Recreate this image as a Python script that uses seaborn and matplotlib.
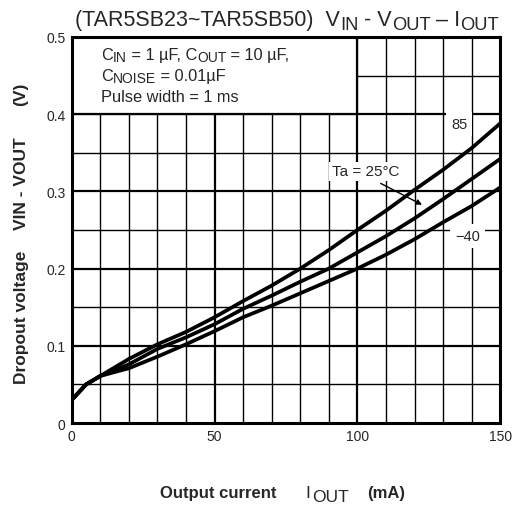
import pandas as pd
import seaborn as sns
import matplotlib.pyplot as plt
from matplotlib.patches import Rectangle

# Output current (mA) and dropout voltage (V)
iout = [0, 5, 10, 20, 30, 40, 50, 60, 70, 80, 90, 100, 110, 120, 130, 140, 150]
v_85 = [0.030, 0.050, 0.061, 0.083, 0.102, 0.118, 0.137, 0.158, 0.178, 0.200,
        0.224, 0.250, 0.275, 0.302, 0.328, 0.356, 0.388]
v_25 = [0.030, 0.050, 0.061, 0.076, 0.096, 0.111, 0.128, 0.148, 0.165, 0.183,
        0.200, 0.221, 0.242, 0.265, 0.290, 0.316, 0.342]
v_m40 = [0.030, 0.050, 0.061, 0.071, 0.086, 0.102, 0.119, 0.137, 0.152, 0.168,
         0.184, 0.200, 0.218, 0.238, 0.260, 0.281, 0.305]
temps = ['85', '25', '-40']

x_ticks = [0, 50, 100, 150]
y_ticks = [0, 0.1, 0.2, 0.3, 0.4, 0.5]

df = pd.DataFrame({
    'iout': iout * 3,
    'vdrop': v_85 + v_25 + v_m40,
    'Ta': [t for t in temps for _ in iout],
})

sns.set_style('white')
plt.rcParams['font.family'] = ['Liberation Sans', 'DejaVu Sans']

fig = plt.figure(figsize=(5.13, 5.06), dpi=100)
ax = fig.add_axes([0.140, 0.162, 0.835, 0.763])


def chain(first, parts):
    # put text pieces one after another, subscripts dropped a little
    prev = first
    for p in parts:
        prev = ax.annotate(p['s'], xy=(1, 0), xycoords=(prev, first),
                           xytext=(p.get('gap', 0), -p.get('drop', 0)),
                           textcoords='offset points', va='bottom', ha='left',
                           fontsize=p['size'], fontweight=p.get('weight', 'normal'),
                           annotation_clip=False, zorder=3)
    return prev


# grid lines (minor thin, major a bit heavier)
for gx in range(10, 150, 10):
    lw = 1.6 if gx % 50 == 0 else 1.0
    ax.axvline(gx, color='black', lw=lw, zorder=1)
for gy in [0.05, 0.1, 0.15, 0.2, 0.25, 0.3, 0.35, 0.4, 0.45]:
    lw = 1.6 if round(gy * 100) % 10 == 0 else 1.0
    ax.axhline(gy, color='black', lw=lw, zorder=1)

# blank box for the conditions text
ax.add_patch(Rectangle((0, 0.4), 100, 0.1, facecolor='white', edgecolor='black',
                       lw=1.6, zorder=2))

sns.lineplot(data=df, x='iout', y='vdrop', hue='Ta', palette=['black'] * 3,
             lw=2.7, legend=False, ax=ax, zorder=4)

ax.set_xlim(0, 150)
ax.set_ylim(0, 0.5)
ax.set_xticks(x_ticks)
ax.set_yticks(y_ticks)
ax.set_xticklabels(['0', '50', '100', '150'])
ax.set_yticklabels(['0', '0.1', '0.2', '0.3', '0.4', '0.5'])
ax.tick_params(length=0, labelsize=10, pad=4.5)
for s in ax.spines.values():
    s.set_linewidth(2.2)
    s.set_color('black')
    s.set_zorder(5)
ax.set_xlabel('')
ax.set_ylabel('')

# conditions text
fs = 11.8
sub = 0.85 * fs
t1 = ax.text(10.2, 0.4715, 'C', fontsize=fs, va='baseline', zorder=3)
chain(t1, [dict(s='IN', size=sub, drop=1.5), dict(s=' = 1 µF, C', size=fs),
           dict(s='OUT', size=sub, drop=1.5), dict(s=' = 10 µF,', size=fs)])
t2 = ax.text(10.2, 0.4447, 'C', fontsize=fs, va='baseline', zorder=3)
chain(t2, [dict(s='NOISE', size=sub, drop=1.5), dict(s=' = 0.01µF', size=fs)])
ax.text(10.2, 0.4175, 'Pulse width = 1 ms', fontsize=fs, va='baseline', zorder=3)

# curve labels
bbox_big = dict(facecolor='white', edgecolor='none', pad=3.5)
ax.text(135.6, 0.387, '85', fontsize=10.5, ha='center', va='center', bbox=bbox_big, zorder=3)
ax.text(138.5, 0.242, '\u221240', fontsize=10.5, ha='center', va='center', bbox=bbox_big, zorder=3)
ax.text(103, 0.326, 'Ta = 25°C', fontsize=11, ha='center', va='center',
        bbox=dict(facecolor='white', edgecolor='none', pad=2), zorder=3)
ax.annotate('', xy=(123.5, 0.281), xytext=(107.3, 0.312),
            arrowprops=dict(arrowstyle='-|>', color='black', lw=1.0,
                            mutation_scale=8), zorder=6)

# title
tt = fig.text(0.146, 0.9486, '(TAR5SB23~TAR5SB50)  V', fontsize=15.5, va='baseline')
chain(tt, [dict(s='IN', size=13.2, drop=2.5), dict(s=' - V', size=15.5),
           dict(s='OUT', size=13.2, drop=2.5), dict(s=' \u2013 I', size=15.5),
           dict(s='OUT', size=13.2, drop=2.5)])

# x label
tx = fig.text(0.312, 0.0158, 'Output current', fontsize=12, fontweight='bold', va='baseline')
chain(tx, [dict(s='I', size=12.5, gap=21), dict(s='OUT', size=12.5, drop=3, gap=1),
           dict(s='(mA)', size=12, weight='bold', gap=13.5)])

# y label
fig.text(0.041, 0.372, 'Dropout voltage', fontsize=12.5, fontweight='bold',
         rotation=90, ha='center', va='center')
fig.text(0.041, 0.638, 'VIN - VOUT', fontsize=12.5, fontweight='bold',
         rotation=90, ha='center', va='center')
fig.text(0.041, 0.814, '(V)', fontsize=12.5, fontweight='bold',
         rotation=90, ha='center', va='center')

fig.savefig('out.png', dpi=100)
